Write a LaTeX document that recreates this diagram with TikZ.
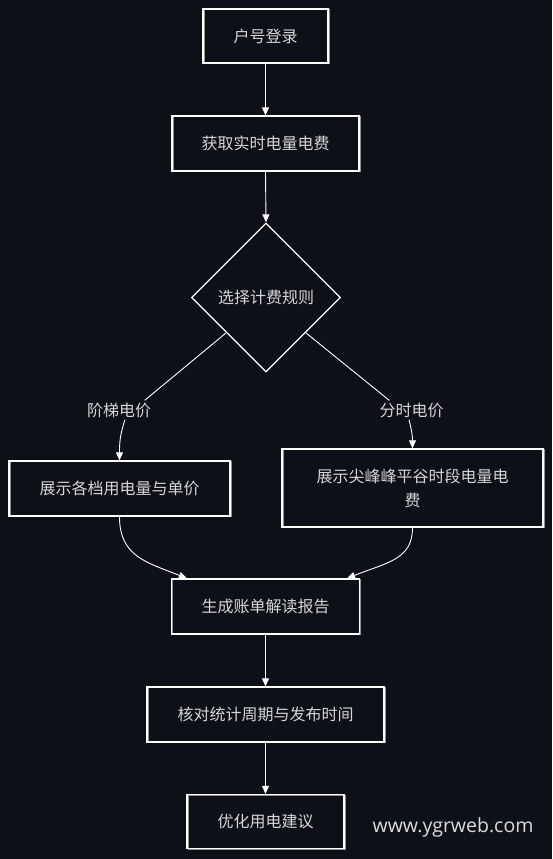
\documentclass[tikz,border=0pt]{standalone}
\usepackage{fontspec}
\setmainfont{Open Sans}
\newfontfamily\cjk{Noto Sans CJK SC}
\usetikzlibrary{arrows.meta,shapes.geometric,calc}
\definecolor{bg}{HTML}{0D1016}
\definecolor{txt}{HTML}{D6D6D6}
\definecolor{wm}{HTML}{DCDCDC}
\tikzset{
  boxnode/.style={draw=white, line width=1.3pt, fill=bg, text=txt, inner sep=0pt,
    font=\cjk\fontsize{16}{24}\selectfont, align=center,
    postaction={draw=white, line width=0.5pt, opacity=0.55,
      transform canvas={xshift=0.8pt, yshift=-0.7pt}}},
  decnode/.style={diamond, aspect=1, draw=white, line width=1.3pt, fill=bg, text=txt,
    inner sep=0pt, minimum width=149pt, minimum height=149pt,
    font=\cjk\fontsize{16}{24}\selectfont},
  lblnode/.style={fill=bg, text=txt, inner sep=2pt, font=\cjk\fontsize{16}{24}\selectfont},
  arr/.style={draw=white, line width=0.9pt, -{Triangle[length=8pt,width=7pt]}},
  ln/.style={draw=white, line width=0.9pt}
}
\begin{document}
\begin{tikzpicture}[x=1pt,y=-1pt]
\fill[bg] (0,0) rectangle (552,859);
\useasboundingbox (0,0) rectangle (552,859);

\node[boxnode, minimum width=125pt, minimum height=54pt] (b1) at (265.5,36) {户号登录};
\node[boxnode, minimum width=187pt, minimum height=55pt] (b2) at (265.5,143.5) {获取实时电量电费};
\node[decnode] (d) at (266,297.5) {选择计费规则};
\node[lblnode] (lblL) at (119,410) {阶梯电价};
\node[lblnode] (lblR) at (411.5,410) {分时电价};
\node[boxnode, minimum width=221pt, minimum height=55pt] (b3) at (119.5,488.5) {展示各档用电量与单价};
\node[boxnode, minimum width=261pt, minimum height=78pt] (b4) at (412.5,488) {展示尖峰峰平谷时段电量电\\费};
\node[boxnode, minimum width=188pt, minimum height=55pt] (b5) at (265.5,606.5) {生成账单解读报告};
\node[boxnode, minimum width=237pt, minimum height=55pt] (b6) at (265.5,714.5) {核对统计周期与发布时间};
\node[boxnode, minimum width=157pt, minimum height=54pt] (b7) at (265.5,821.5) {优化用电建议};
\node[text=wm, font=\fontsize{19.5}{24}\selectfont, inner sep=0pt] (wm) at (453,827) {www.ygrweb.com};

\draw[arr] (b1.south) -- (b2.north);
\draw[arr] (b2.south) -- (d.north);

\coordinate (dL) at ($(d.west)!0.47!(d.south)$);
\coordinate (dR) at ($(d.east)!0.47!(d.south)$);
\coordinate (lLin) at ($(lblL.north)!0.75!(lblL.north east)$);
\coordinate (lRin) at ($(lblR.north)!0.65!(lblR.north west)$);
\draw[ln] (dL) -- (lLin);
\draw[ln] (dR) -- (lRin);
\draw[arr] ($(lblL.south)+(6,0)$) .. controls +(-5,15) and +(0,-18) .. (b3.north);
\draw[arr] ($(lblR.south)+(-2.5,0)$) .. controls +(3,12) and +(0,-12) .. (b4.north);

\coordinate (b5L) at ($(b5.north west)+(16,0)$);
\coordinate (b5R) at ($(b5.north east)+(-13,0)$);
\draw[arr] (b3.south) .. controls +(0,40) and +(-40,-16) .. (b5L);
\draw[arr] (b4.south) .. controls +(0,32) and +(40,-16) .. (b5R);

\draw[arr] (b5.south) -- (b6.north);
\draw[arr] (b6.south) -- (b7.north);
\end{tikzpicture}
\end{document}
